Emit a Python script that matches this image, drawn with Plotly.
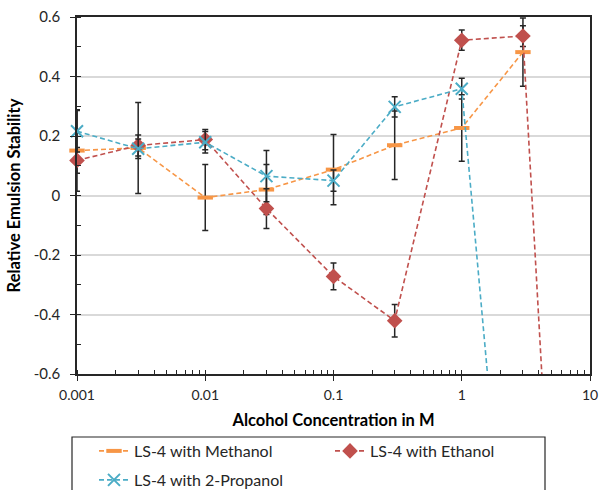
import plotly.graph_objects as go

# ---- data ----
conc = [0.001, 0.003, 0.01, 0.03, 0.1, 0.3, 1, 3]
methanol = [0.151, 0.160, -0.007, 0.020, 0.087, 0.169, 0.227, 0.482]
methanol_err = [0.137, 0.153, 0.111, 0.084, 0.118, 0.115, 0.112, 0.115]

conc_eth = [0.001, 0.003, 0.01, 0.03, 0.1, 0.3, 1, 3, 10]
ethanol = [0.118, 0.168, 0.188, -0.044, -0.272, -0.421, 0.522, 0.536, -3.5]
ethanol_err = [0.043, 0.035, 0.034, 0.067, 0.045, 0.055, 0.034, 0.035, 0.0]

conc_prop = [0.001, 0.003, 0.01, 0.03, 0.1, 0.3, 1, 3]
propanol = [0.216, 0.157, 0.179, 0.065, 0.050, 0.298, 0.359, -1.92]
propanol_err = [0.070, 0.033, 0.036, 0.086, 0.036, 0.034, 0.035, 0.0]

x_tickvals = [0.001, 0.01, 0.1, 1, 10]
x_ticktext = ["0.001", "0.01", "0.1", "1", "10"]
y_tickvals = [-0.6, -0.4, -0.2, 0, 0.2, 0.4, 0.6]
y_ticktext = ["-0.6", "-0.4", "-0.2", "0", "0.2", "0.4", "0.6"]

ORANGE = "#F79646"
RED = "#C0504D"
CYAN = "#4BACC6"
FONT = "Lato"
DASH = "5px,3px"

def err(vals):
    return dict(type="data", array=vals, visible=True, color="#262626",
                thickness=1.5, width=3)

fig = go.Figure()
fig.add_trace(go.Scatter(
    x=conc, y=methanol, name="LS-4 with Methanol", mode="lines+markers",
    line=dict(color=ORANGE, width=1.6, dash=DASH),
    marker=dict(symbol="line-ew", size=11, color=ORANGE,
                line=dict(color=ORANGE, width=4)),
    cliponaxis=False,
    error_y=err(methanol_err), legend="legend"))
fig.add_trace(go.Scatter(
    x=conc_eth, y=ethanol, name="LS-4 with Ethanol", mode="lines+markers",
    line=dict(color=RED, width=1.6, dash=DASH),
    marker=dict(symbol="diamond", size=12, color=RED),
    cliponaxis=False,
    error_y=err(ethanol_err), legend="legend"))
fig.add_trace(go.Scatter(
    x=conc_prop, y=propanol, name="LS-4 with 2-Propanol", mode="lines+markers",
    line=dict(color=CYAN, width=1.6, dash=DASH),
    marker=dict(symbol="x-thin", size=12, color=CYAN,
                line=dict(color=CYAN, width=2)),
    cliponaxis=False,
    error_y=err(propanol_err), legend="legend2"))

W, H = 600, 490
L, R, T, B = 77, 10, 17, 116
pw, ph = W - L - R, H - T - B

def px_x(p):
    return (p - L) / pw

def px_y(p):
    return (H - B - p) / ph

fig.update_layout(
    width=W, height=H,
    margin=dict(l=L, r=R, t=T, b=B, autoexpand=False),
    paper_bgcolor="white", plot_bgcolor="white",
    font=dict(family=FONT, size=14, color="#262626"),
    showlegend=True,
    legend=dict(orientation="h", x=px_x(94), xanchor="left",
                y=px_y(451), yanchor="middle",
                entrywidth=191, entrywidthmode="pixels",
                font=dict(family=FONT, size=16, color="#262626"),
                bgcolor="rgba(0,0,0,0)", borderwidth=0),
    legend2=dict(orientation="h", x=px_x(94), xanchor="left",
                 y=px_y(480), yanchor="middle",
                 font=dict(family=FONT, size=16, color="#262626"),
                 bgcolor="rgba(0,0,0,0)", borderwidth=0),
    shapes=[dict(type="rect", xref="paper", yref="paper",
                 x0=px_x(72), x1=px_x(545), y0=px_y(437), y1=px_y(520),
                 line=dict(color="#262626", width=1.2), fillcolor="rgba(0,0,0,0)")],
    xaxis=dict(type="log", range=[-3, 1], tickvals=x_tickvals, ticktext=x_ticktext,
               showgrid=False, zeroline=False,
               showline=True, linecolor="#262626", linewidth=1.5, mirror=True,
               ticks="outside", ticklen=5, tickwidth=1.2, tickcolor="#262626",
               ticklabelstandoff=2, ticklabeloverflow="allow",
               minor=dict(ticks="inside", ticklen=4, tickwidth=1, tickcolor="#262626",
                          dtick="D1", showgrid=False),
               tickfont=dict(family=FONT, size=14, color="#262626"),
               title=dict(text="<b>Alcohol Concentration in M</b>",
                          font=dict(family=FONT, size=16.5, color="#000000"),
                          standoff=13)),
    yaxis=dict(range=[-0.6, 0.6], tickvals=y_tickvals, ticktext=y_ticktext,
               showgrid=True, gridcolor="#D9D9D9", gridwidth=1.5, zeroline=False,
               showline=True, linecolor="#262626", linewidth=1.5, mirror=True,
               ticks="outside", ticklen=5, tickwidth=1.2, tickcolor="#262626",
               ticklabelstandoff=7, ticklabeloverflow="allow",
               minor=dict(ticks="inside", ticklen=4, tickwidth=1, tickcolor="#262626",
                          dtick=0.1, showgrid=False),
               tickfont=dict(family=FONT, size=15, color="#262626"),
               title=dict(text="<b>Relative Emulsion Stability</b>",
                          font=dict(family=FONT, size=16.5, color="#000000"),
                          standoff=9)),
)

fig.write_html(
    "out.html",
    config={"displayModeBar": False},
    post_script="document.body.style.margin='0';document.body.style.overflow='hidden';",
)
